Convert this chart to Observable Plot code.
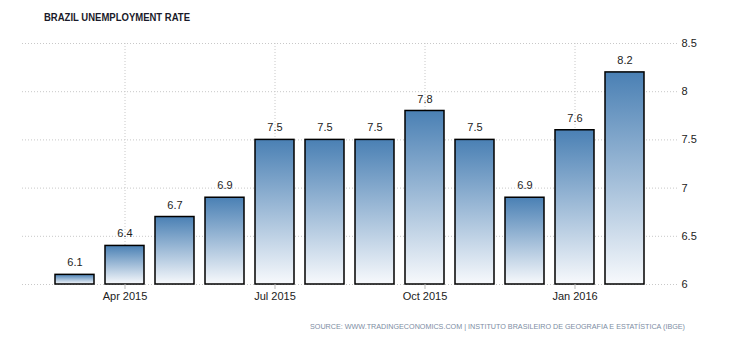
<!DOCTYPE html>
<html>
<head>
<meta charset="utf-8">
<script src="https://cdn.jsdelivr.net/npm/d3@7"></script>
<script src="https://cdn.jsdelivr.net/npm/@observablehq/plot@0.6"></script>
<style>
  html, body { margin: 0; padding: 0; background: #fff; }
  #chart { width: 730px; height: 340px; }
</style>
</head>
<body>
<div id="chart"></div>
<script>
const title = "BRAZIL UNEMPLOYMENT RATE";
const source = "SOURCE: WWW.TRADINGECONOMICS.COM | INSTITUTO BRASILEIRO DE GEOGRAFIA E ESTATÍSTICA (IBGE)";
const months = ["2015-03","2015-04","2015-05","2015-06","2015-07","2015-08","2015-09","2015-10","2015-11","2015-12","2016-01","2016-02"];
const values = [6.1, 6.4, 6.7, 6.9, 7.5, 7.5, 7.5, 7.8, 7.5, 6.9, 7.6, 8.2];
const tickMonths = ["2015-04","2015-07","2015-10","2016-01"];
const tickLabels = ["Apr 2015","Jul 2015","Oct 2015","Jan 2016"];
const yTicks = [6, 6.5, 7, 7.5, 8, 8.5];

const data = months.map((m, i) => ({month: m, value: values[i]}));
const labelOf = new Map(tickMonths.map((m, i) => [m, tickLabels[i]]));

const font = "'Liberation Sans', Arial, sans-serif";
const grid = {stroke: "#c8c8c8", strokeDasharray: "1,2", strokeWidth: 1};

const defs = () => {
  const d = d3.create("svg:defs");
  const g = d.append("linearGradient").attr("id", "barGrad").attr("x1", 0).attr("y1", 0).attr("x2", 0).attr("y2", 1);
  g.append("stop").attr("offset", "0%").attr("stop-color", "#4a80b4");
  g.append("stop").attr("offset", "100%").attr("stop-color", "#f7f9fc");
  return d.node();
};

const chart = Plot.plot({
  width: 730,
  height: 340,
  marginLeft: 22,
  marginRight: 53,
  marginTop: 43,
  marginBottom: 56,
  style: {fontFamily: font, fontSize: "11px", color: "#222", background: "#fff"},
  x: {type: "band", domain: months, paddingInner: 0.22, paddingOuter: 0.61},
  y: {domain: [6, 8.5]},
  marks: [
    defs,
    Plot.ruleY(yTicks, {...grid}),
    Plot.ruleX(tickMonths, {x: d => d, y1: 6, y2: 8.5, ...grid}),
    Plot.barY(data, {x: "month", y1: () => 6, y2: "value", fill: "url(#barGrad)", stroke: "#000", strokeWidth: 1.5}),
    Plot.text(data, {x: "month", y: "value", text: d => d.value.toFixed(1), dy: -12, fontSize: 11, fill: "#222"}),
    Plot.axisX(tickMonths, {tickFormat: d => labelOf.get(d), tickSize: 5, tickPadding: 3, stroke: "#bbb", fill: "#222", fontSize: 11, label: null}),
    Plot.axisY(yTicks, {anchor: "right", tickSize: 0, tickPadding: 4, tickFormat: d => String(d), fill: "#222", fontSize: 11, label: null})
  ]
});

const svg = d3.select(chart);
svg.append("text")
  .attr("x", 44).attr("y", 21)
  .attr("text-anchor", "start")
  .attr("font-family", font).attr("font-size", 11).attr("font-weight", "bold")
  .attr("fill", "#1a1a2a")
  .attr("textLength", 146).attr("lengthAdjust", "spacingAndGlyphs")
  .text(title);
svg.append("text")
  .attr("x", 310).attr("y", 329)
  .attr("text-anchor", "start")
  .attr("font-family", font).attr("font-size", 7.7)
  .attr("fill", "#7d8da3")
  .attr("textLength", 375).attr("lengthAdjust", "spacingAndGlyphs")
  .text(source);

document.getElementById("chart").appendChild(chart);
</script>
</body>
</html>
